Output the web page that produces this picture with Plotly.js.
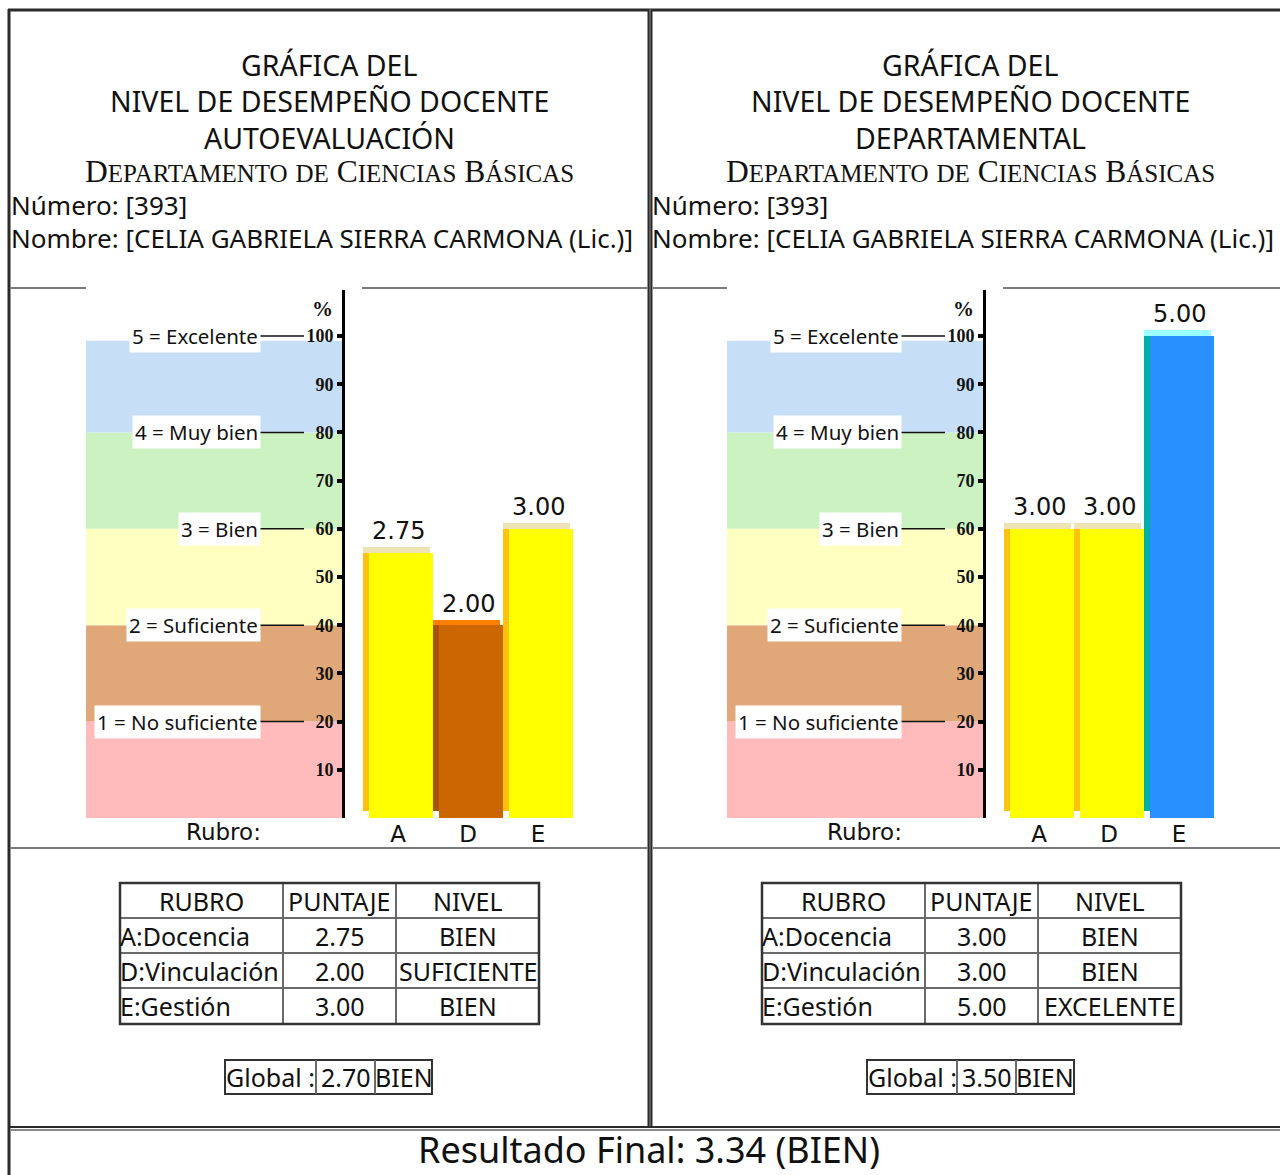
<!DOCTYPE html>
<html><head><meta charset="utf-8">
<script src="https://cdn.plot.ly/plotly-3.0.1.min.js"></script>
<style>html,body{margin:0;padding:0;background:#fff}#chart{width:1280px;height:1175px}</style>
</head><body><div id="chart"></div>
<script>
// ---------------- DATA ----------------
const rubros = ['A', 'D', 'E'];
const rubroNombres = ['A:Docencia', 'D:Vinculación', 'E:Gestión'];
const puntajeAuto = [2.75, 2.00, 3.00];
const nivelAuto = ['BIEN', 'SUFICIENTE', 'BIEN'];
const puntajeDepto = [3.00, 3.00, 5.00];
const nivelDepto = ['BIEN', 'BIEN', 'EXCELENTE'];
const globalPuntaje = [2.70, 3.50];
const globalNivel = ['BIEN', 'BIEN'];
const resultadoFinal = 3.34;
const resultadoNivel = 'BIEN';
const escalaValores = [1, 2, 3, 4, 5];
const escalaEtiquetas = ['1 = No suficiente', '2 = Suficiente', '3 = Bien', '4 = Muy bien', '5 = Excelente'];
const yTicks = [10, 20, 30, 40, 50, 60, 70, 80, 90, 100];
const panelSubtitulos = ['AUTOEVALUACIÓN', 'DEPARTAMENTAL'];
const tituloLineas = ['GRÁFICA DEL', 'NIVEL DE DESEMPEÑO DOCENTE'];
const departamento = 'Departamento de Ciencias Básicas';
const numero = '393';
const nombre = 'CELIA GABRIELA SIERRA CARMONA (Lic.)';
const encabezados = ['RUBRO', 'PUNTAJE', 'NIVEL'];

// ---------------- STYLE ----------------
const W = 1280, H = 1175;
const px = x => x / W;
const py = y => 1 - y / H;
const bandColors = ['#FFBBBB', '#E0A878', '#FFFFC2', '#CCF2C2', '#C6DFF7'];
const barFront = {BIEN: '#FFFF00', SUFICIENTE: '#CC6600', EXCELENTE: '#2890FF'};
const barSide = {BIEN: '#FFC20E', SUFICIENTE: '#A85400', EXCELENTE: '#00AFA5'};
const barCap = {BIEN: '#EEE3B5', SUFICIENTE: '#FF8000', EXCELENTE: '#99FFFF'};
const SANS = 'Noto Sans, sans-serif';
const DJ = 'DejaVu Sans, sans-serif';
const SERIF = 'Liberation Serif, serif';
const dxPanel = [0, 641];
const yZeroPx = 818, yTopPx = 290, pxPerUnit = 4.82;
const yDomain = [py(yZeroPx), py(yTopPx)];
const yRange = [0, (yZeroPx - yTopPx) / pxPerUnit];
const barPx = 70, axisPx = 345, firstCenterPx = 398;
const capH = 1.15;
const TF = 25; // table font size

const shapes = [];
const annotations = [];
function line(x0, y0, x1, y1, color, width) {
  shapes.push({type: 'line', xref: 'paper', yref: 'paper', x0: px(x0), y0: py(y0), x1: px(x1), y1: py(y1),
    line: {color: color, width: width}});
}
function txt(x, y, text, size, opt) {
  opt = opt || {};
  annotations.push(Object.assign({xref: 'paper', yref: 'paper', x: px(x), y: py(y), text: text, showarrow: false,
    xanchor: 'center', yanchor: 'middle', font: {family: SANS, size: size, color: '#111'}}, opt));
}
// manual small caps
function smallCaps(s, big, small) {
  return s.split(' ').map(w => {
    const first = w.charAt(0).toUpperCase();
    const rest = w.slice(1).toUpperCase();
    const firstSize = w.charAt(0) === w.charAt(0).toUpperCase() ? big : small;
    return '<span style="font-size:' + firstSize + 'px">' + first + '</span>' +
      (rest ? '<span style="font-size:' + small + 'px">' + rest + '</span>' : '');
  }).join('<span style="font-size:' + big + 'px"> </span>');
}

// ---------------- FRAME ----------------
line(9, 9, 9, 1175, '#2b2b2b', 3);
line(8, 10, 1280, 10, '#2b2b2b', 3);
shapes.push({type: 'rect', xref: 'paper', yref: 'paper', x0: px(647.5), x1: px(652.5), y0: py(1128), y1: py(9),
  fillcolor: '#2b2b2b', line: {width: 0}});
line(650, 9, 650, 1128, '#8a8a8a', 1);
[[10, 86], [362, 648], [653, 727], [1003, 1280]].forEach(s => line(s[0], 288, s[1], 288, '#7a7a7a', 2));
line(10, 848, 648, 848, '#7a7a7a', 2);
line(653, 848, 1280, 848, '#7a7a7a', 2);
line(10, 1127, 1280, 1127, '#2b2b2b', 2);
line(10, 1130, 1280, 1130, '#8a8a8a', 2);

// ---------------- PANELS ----------------
const traces = [];
const panels = [
  {p: puntajeAuto, n: nivelAuto},
  {p: puntajeDepto, n: nivelDepto}
];
panels.forEach((pan, k) => {
  const dx = dxPanel[k];
  const cx = 329 + dx;
  const xa = k === 0 ? 'x' : 'x2';
  const ya = k === 0 ? 'y' : 'y2';
  // titles
  txt(cx, 65, tituloLineas[0], 28.5);
  txt(cx, 101, tituloLineas[1], 28.5);
  txt(cx, 138, panelSubtitulos[k], 28.5);
  txt(cx, 171, smallCaps(departamento, 31.5, 25), 31.5, {font: {family: SERIF, size: 31.5, color: '#111'}});
  txt(9 + dx, 205, 'Número: [' + numero + ']', 26, {xanchor: 'left'});
  txt(9 + dx, 238, 'Nombre: [' + nombre + ']', 26, {xanchor: 'left'});

  // level bands
  escalaValores.forEach((v, i) => {
    shapes.push({type: 'rect', xref: 'paper', yref: ya, x0: px(86 + dx), x1: px(axisPx + dx),
      y0: (v - 1) * 20, y1: v * 20 - (v === 5 ? 1 : 0), fillcolor: bandColors[i], line: {width: 0}, layer: 'below'});
  });
  escalaValores.forEach((v, i) => {
    shapes.push({type: 'line', xref: 'paper', yref: ya, x0: px(258 + dx), x1: px(304 + dx), y0: v * 20, y1: v * 20,
      line: {color: '#111', width: 1.5}});
    annotations.push({xref: 'paper', yref: ya, x: px(261 + dx), y: v * 20, xanchor: 'right', yanchor: 'middle',
      text: escalaEtiquetas[i], showarrow: false, bgcolor: '#FFFFFF', borderpad: 2,
      font: {family: SANS, size: 20.5, color: '#111'}});
  });
  annotations.push({xref: 'paper', yref: ya, x: px(322 + dx), y: 105.5, text: '%', showarrow: false,
    xanchor: 'center', yanchor: 'middle', font: {family: SERIF, size: 21, color: '#111', weight: 'bold'}});
  txt(223 + dx, 832, 'Rubro:', 23, {font: {family: DJ, size: 23, color: '#111'}});

  // bars
  const pct = pan.p.map(v => v * 20);
  traces.push({type: 'bar', xaxis: xa, yaxis: ya, x: rubros, y: pct.map(v => v - 1.5), base: 1.5,
    width: 0.086, offset: -0.5, marker: {color: pan.n.map(n => barSide[n]), line: {width: 0}}, hoverinfo: 'skip'});
  traces.push({type: 'bar', xaxis: xa, yaxis: ya, x: rubros, y: pct, base: 0,
    width: 0.914, offset: -0.414, marker: {color: pan.n.map(n => barFront[n]), line: {width: 0}}, hoverinfo: 'skip'});
  traces.push({type: 'bar', xaxis: xa, yaxis: ya, x: rubros, y: pct.map(() => capH), base: pct,
    width: 0.955, offset: -0.5, marker: {color: pan.n.map(n => barCap[n]), line: {width: 0}}, hoverinfo: 'skip'});
  pan.p.forEach((v, i) => {
    annotations.push({xref: xa, yref: ya, x: rubros[i], y: pct[i] + capH, yanchor: 'bottom', xanchor: 'center',
      yshift: 0, text: v.toFixed(2), showarrow: false, font: {family: DJ, size: 24, color: '#111'}});
  });

  // table
  const tx = [120, 283, 396, 539].map(v => v + dx + (k === 1 ? 1 : 0));
  const ty = [883, 918, 953, 988, 1024];
  for (let r = 1; r < 4; r++) line(tx[0], ty[r], tx[3], ty[r], '#6a6a6a', 2);
  for (let c = 1; c < 3; c++) line(tx[c], ty[0], tx[c], ty[4], '#6a6a6a', 2);
  shapes.push({type: 'rect', xref: 'paper', yref: 'paper', x0: px(tx[0]), x1: px(tx[3]), y0: py(ty[4]), y1: py(ty[0]),
    line: {color: '#333', width: 2.5}});
  encabezados.forEach((h, c) => txt((tx[c] + tx[c + 1]) / 2, (ty[0] + ty[1]) / 2, h, TF));
  rubroNombres.forEach((nm, r) => {
    const yc = (ty[r + 1] + ty[r + 2]) / 2;
    txt(tx[0] - 2, yc, nm, TF, {xanchor: 'left'});
    txt((tx[1] + tx[2]) / 2, yc, pan.p[r].toFixed(2), TF);
    txt((tx[2] + tx[3]) / 2, yc, pan.n[r], TF);
  });

  // global box
  const gx = k === 0 ? [225, 316, 375, 432] : [867, 957, 1016, 1074];
  const gy = [1060, 1094];
  shapes.push({type: 'rect', xref: 'paper', yref: 'paper', x0: px(gx[0]), x1: px(gx[3]), y0: py(gy[1]), y1: py(gy[0]),
    line: {color: '#333', width: 2}});
  line(gx[1], gy[0], gx[1], gy[1], '#6a6a6a', 2);
  line(gx[2], gy[0], gx[2], gy[1], '#6a6a6a', 2);
  const gyc = (gy[0] + gy[1]) / 2;
  txt(gx[0] - 1, gyc, 'Global :', TF, {xanchor: 'left'});
  txt((gx[1] + gx[2]) / 2, gyc, globalPuntaje[k].toFixed(2), TF);
  txt((gx[2] + gx[3]) / 2, gyc, globalNivel[k], TF);
});

txt(649, 1149, 'Resultado Final: ' + resultadoFinal.toFixed(2) + ' (' + resultadoNivel + ')', 36);

// ---------------- AXES ----------------
const r0 = -(firstCenterPx - axisPx) / barPx;
function xAxis(domPx, anchor) {
  return {domain: [px(domPx[0]), Math.min(1, px(domPx[1]))], range: [r0, r0 + (domPx[1] - domPx[0]) / barPx],
    type: 'category', categoryarray: rubros, anchor: anchor, showgrid: false, zeroline: false, showline: false,
    ticks: '', tickfont: {family: DJ, size: 23, color: '#111'}, fixedrange: true};
}
function yAxis(anchor) {
  return {domain: yDomain, range: yRange, anchor: anchor, showgrid: false, zeroline: false,
    showline: true, linecolor: '#000', linewidth: 3, ticks: 'outside', ticklen: 5, tickwidth: 4, tickcolor: '#000',
    tickvals: yTicks, ticktext: yTicks.map(String),
    tickfont: {family: SERIF, size: 18, color: '#111', weight: 'bold'}, fixedrange: true};
}

const layout = {
  width: W, height: H, margin: {l: 0, r: 0, t: 0, b: 0},
  paper_bgcolor: '#FFFFFF', plot_bgcolor: 'rgba(0,0,0,0)',
  showlegend: false, barmode: 'overlay', bargap: 0,
  xaxis: xAxis([345, 650], 'y'),
  yaxis: yAxis('x'),
  xaxis2: xAxis([986, 1280], 'y2'),
  yaxis2: yAxis('x2'),
  shapes: shapes, annotations: annotations
};

Plotly.newPlot('chart', traces, layout, {staticPlot: true, displayModeBar: false});
</script>
</body></html>
